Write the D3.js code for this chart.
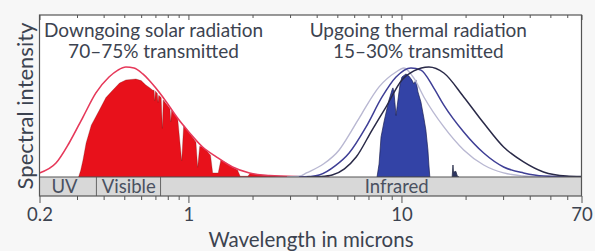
<!DOCTYPE html>
<html>
<head>
<meta charset="utf-8">
<script src="https://cdn.jsdelivr.net/npm/d3@7"></script>
<style>
  html, body { margin: 0; padding: 0; background: #f7f7f7; }
  svg { display: block; }
  text { font-family: Lato, "Open Sans", sans-serif; fill: #3c4350; }
</style>
</head>
<body>
<svg id="chart" width="595" height="251"></svg>
<script>
// ---- data: [wavelength in microns, relative spectral intensity 0-100] ----
const solarEnvelope = [
  [0.2, 2.5], [0.239, 8.6], [0.2755, 21], [0.32, 37], [0.368, 51.9], [0.424, 61.7],
  [0.467, 66], [0.509, 67.9], [0.555, 67.3], [0.611, 63.6], [0.659, 59.3], [0.703, 54.9],
  [0.758, 49.4], [0.818, 43.2], [0.882, 37], [1.014, 27.2], [1.166, 18.5], [1.357, 12.3],
  [1.611, 6.2], [1.935, 2.5], [2.4, 0.9], [3.32, 0.2], [4.58, 0]
];
const solarTransmitted = [
  [0.305, 0], [0.312, 4], [0.32, 10.5], [0.331, 21], [0.35, 32], [0.381, 41], [0.41, 49],
  [0.442, 53.7], [0.475, 58], [0.509, 59.9], [0.567, 60.5], [0.60, 59.5], [0.631, 56.8],
  [0.66, 55], [0.681, 53.5], [0.69, 53.5], [0.695, 47], [0.70, 53], [0.715, 51.5],
  [0.72, 46], [0.725, 50.5], [0.745, 49], [0.755, 30], [0.762, 47.5], [0.80, 44],
  [0.82, 42], [0.826, 34], [0.834, 41], [0.87, 38], [0.89, 36.5], [0.93, 10], [0.95, 32],
  [1.0, 28], [1.06, 23.5], [1.085, 21.5], [1.105, 6], [1.13, 19], [1.16, 18.5],
  [1.22, 16], [1.27, 13.5], [1.3, 2.5], [1.38, 2.5], [1.42, 10.5], [1.5, 8.8], [1.6, 6.2],
  [1.7, 4.3], [1.75, 0.5], [1.9, 0.5], [1.95, 2.3], [2.1, 1.6], [2.4, 0.8], [2.8, 0.3],
  [3.0, 0]
];
const thermalWarm = [   // light curve
  [2.9, 0], [3.35, 0.6], [3.58, 2.5], [4.3, 8], [5.10, 16.7], [5.8, 28], [6.54, 39.5],
  [7.85, 55.6], [9.43, 64.8], [10.27, 67.3], [11.44, 61], [12.74, 49.4], [15.81, 30.9],
  [19.6, 16.7], [24.32, 7.4], [30.16, 2.5], [37.41, 0.6], [45, 0]
];
const thermalMid = [    // blue curve
  [3.3, 0], [3.69, 0.3], [4.11, 1.2], [4.9, 7], [5.68, 14.8], [6.82, 30.9], [8.11, 49.4],
  [9.43, 61.7], [11.08, 67.3], [12.34, 66], [14.19, 54.9], [15.81, 44.4], [19.6, 27.8],
  [24.32, 14.8], [30.16, 6.2], [37.41, 2.5], [46.4, 0.6], [70, 0]
];
const thermalCold = [   // dark curve
  [3.6, 0], [4.2, 0.3], [4.73, 1.2], [5.4, 5], [6.13, 12.3], [7.28, 29], [8.46, 43.2],
  [10.05, 59.9], [11.44, 65.5], [13.45, 67.9], [15.81, 64.2], [19.6, 49.4], [24.32, 33.3],
  [30.16, 18.5], [37.41, 9.3], [46.4, 3.1], [59.4, 0.6], [70, 0.3]
];
const thermalTransmitted = [
  [7.68, 0], [7.85, 8], [8.02, 24.7], [8.28, 34], [8.46, 39.5], [8.74, 47.5], [9.03, 53.7],
  [9.12, 55], [9.22, 52.5], [9.43, 38], [9.63, 47.5], [9.84, 56.8], [10.05, 61.7],
  [10.5, 63.6], [10.84, 62.3], [11.19, 59.9], [11.44, 57.4], [11.69, 59.9], [11.95, 52.5],
  [12.34, 46.3], [12.74, 36.4], [13.02, 29], [13.31, 16.7], [13.45, 7.4], [13.59, 0]
];
const thermalSpike = [
  [17.3, 0], [17.45, 7.4], [17.55, 3], [18.0, 3.5], [18.3, 0.5], [18.6, 0]
];
const bandEdges = [0.2, 0.37, 0.74, 70];
const bandLabels = [
  { label: "UV", at: 0.262 },
  { label: "Visible", at: 0.525 },
  { label: "Infrared", at: 9.5 }
];
const majorTicks = [0.2, 1, 10, 70];
const minorTicks = [0.3, 0.4, 0.5, 0.6, 0.7, 0.8, 0.9, 2, 3, 4, 5, 6, 7, 8, 9, 20, 30, 40, 50, 60];
const titles = [
  { lines: ["Downgoing solar radiation", "70\u201375% transmitted"], at: 0.686 },
  { lines: ["Upgoing thermal radiation", "15\u201330% transmitted"], at: 12.0 }
];

// ---- layout ----
const pLeft = 39.5, pRight = 581.5, pTop = 15, pBase = 177, pBandBottom = 196;
const svg = d3.select("#chart");
const x = d3.scaleLog().domain([0.2, 70]).range([pLeft, pRight]);
const y = d3.scaleLinear().domain([0, 100]).range([pBase, pTop]);

svg.append("rect").attr("x", pLeft).attr("y", pTop)
  .attr("width", pRight - pLeft).attr("height", pBandBottom - pTop).attr("fill", "#ffffff");

svg.append("clipPath").attr("id", "plotclip")
  .append("rect").attr("x", pLeft).attr("y", pTop).attr("width", pRight - pLeft).attr("height", pBase - pTop);

const g = svg.append("g").attr("clip-path", "url(#plotclip)");

const area = d3.area().x(d => x(d[0])).y0(y(0)).y1(d => y(d[1])).curve(d3.curveLinear);
const smooth = d3.line().x(d => x(d[0])).y(d => y(d[1])).curve(d3.curveMonotoneX);

g.append("path").datum(solarTransmitted).attr("d", area)
  .attr("fill", "#e8111b").attr("stroke", "#6a1616").attr("stroke-opacity", 0.45).attr("stroke-width", 0.6);
g.append("path").datum(thermalTransmitted).attr("d", area)
  .attr("fill", "#3343a6").attr("stroke", "#1b1f55").attr("stroke-width", 0.7);
g.append("path").datum(thermalSpike).attr("d", area)
  .attr("fill", "#2c3560").attr("stroke", "#2a2f4a").attr("stroke-width", 0.8);

g.append("path").datum(solarEnvelope).attr("d", smooth)
  .attr("fill", "none").attr("stroke", "#e6395a").attr("stroke-width", 1.6);
g.append("path").datum(thermalWarm).attr("d", smooth)
  .attr("fill", "none").attr("stroke", "#b9b8d2").attr("stroke-width", 1.4);
g.append("path").datum(thermalMid).attr("d", smooth)
  .attr("fill", "none").attr("stroke", "#3f3f96").attr("stroke-width", 1.5);
g.append("path").datum(thermalCold).attr("d", smooth)
  .attr("fill", "none").attr("stroke", "#2a2a48").attr("stroke-width", 1.5);

// band of spectral regions
svg.append("rect").attr("x", pLeft).attr("y", pBase)
  .attr("width", pRight - pLeft).attr("height", pBandBottom - pBase).attr("fill", "#d8d8d8");
svg.selectAll(".divider").data(bandEdges.slice(1, -1)).enter().append("line")
  .attr("x1", d => x(d)).attr("x2", d => x(d)).attr("y1", pBase).attr("y2", pBandBottom)
  .attr("stroke", "#666").attr("stroke-width", 1);
svg.selectAll(".bandlabel").data(bandLabels).enter().append("text")
  .attr("x", d => x(d.at)).attr("y", 193).attr("text-anchor", "middle")
  .style("font-size", "18.5px").style("fill", "#4a5161").text(d => d.label);

// frame
svg.append("line").attr("x1", pLeft).attr("x2", pRight).attr("y1", pBase).attr("y2", pBase)
  .attr("stroke", "#555").attr("stroke-width", 1.2);
svg.append("rect").attr("x", pLeft).attr("y", pTop).attr("width", pRight - pLeft)
  .attr("height", pBandBottom - pTop).attr("fill", "none").attr("stroke", "#555").attr("stroke-width", 1.2);

// axes
const axBottomMinor = d3.axisBottom(x).tickValues(minorTicks).tickSize(4).tickFormat("");
const axBottomMajor = d3.axisBottom(x).tickValues(majorTicks).tickSize(7).tickPadding(5)
  .tickFormat(d => d3.format("~g")(d));
const axTopMinor = d3.axisTop(x).tickValues(minorTicks).tickSize(-3).tickFormat("");
const axTopMajor = d3.axisTop(x).tickValues(majorTicks).tickSize(-5).tickFormat("");

function style(sel) {
  sel.select(".domain").remove();
  sel.selectAll(".tick line").attr("stroke", "#555").attr("stroke-width", 1);
}
svg.append("g").attr("transform", `translate(0,${pBandBottom})`).call(axBottomMinor).call(style);
const bm = svg.append("g").attr("transform", `translate(0,${pBandBottom})`).call(axBottomMajor).call(style);
bm.selectAll(".tick text").style("font-size", "18.5px").style("font-family", "Lato, sans-serif")
  .attr("fill", "#3c4350");
svg.append("g").attr("transform", `translate(0,${pTop})`).call(axTopMinor).call(style);
svg.append("g").attr("transform", `translate(0,${pTop})`).call(axTopMajor).call(style);

// titles
titles.forEach(t => {
  t.lines.forEach((ln, i) => {
    svg.append("text").attr("x", x(t.at)).attr("y", 37 + i * 21).attr("text-anchor", "middle")
      .style("font-size", "19px").text(ln);
  });
});

svg.append("text").attr("x", 311).attr("y", 246.5).attr("text-anchor", "middle")
  .style("font-size", "20.5px").text("Wavelength in microns");
svg.append("text").attr("transform", "translate(33,106) rotate(-90)").attr("text-anchor", "middle")
  .style("font-size", "22px").text("Spectral intensity");
</script>
</body>
</html>
